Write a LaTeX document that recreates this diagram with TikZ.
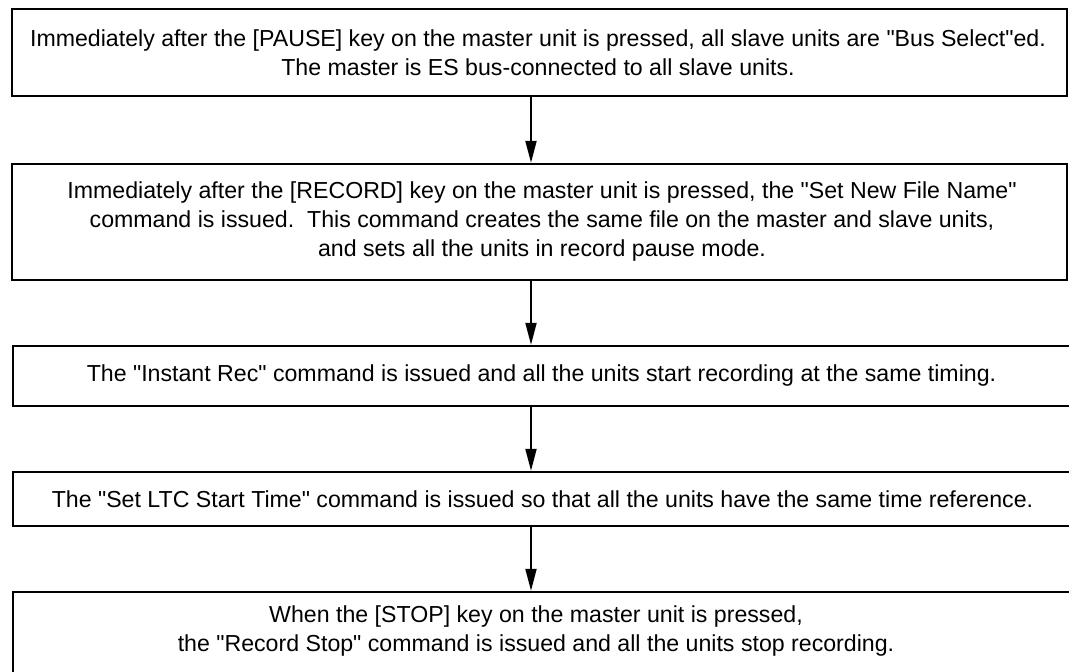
\documentclass[tikz,border=0pt]{standalone}
\usepackage{fontspec}
\setmainfont{Liberation Sans}[Ligatures=TeXOff]
\usetikzlibrary{arrows.meta}
\begin{document}
\begin{tikzpicture}[x=1pt,y=-1pt,
  txt/.style={align=center,inner sep=0pt,font=\fontsize{23.15}{29}\selectfont},
  stepbox/.style={draw=black,line width=2.4pt,rectangle,inner sep=0pt,txt},
  arr/.style={line width=2pt,-{Triangle[length=22pt,width=11pt]}}]
\useasboundingbox (0,0) rectangle (1069,672);
\clip (0,0) rectangle (1069,672);
% boxes
\node[stepbox,minimum width=1055pt,minimum height=87pt] (b1) at (539.5,52.5) {};
\node[stepbox,minimum width=1055pt,minimum height=116pt] (b2) at (539.5,222) {};
\node[stepbox,minimum width=1070pt,minimum height=60pt] (b3) at (548,376) {};
\node[stepbox,minimum width=1070pt,minimum height=54pt] (b4) at (548,499) {};
\node[stepbox,minimum width=1070pt,minimum height=110pt] (b5) at (548,647) {};
% texts
\node[txt] (t1) at (538,52.5)
  {Immediately after the [PAUSE] key on the master unit is pressed, all slave units are "Bus Select"ed.\\
   The master is ES bus-connected to all slave units.};
\node[txt] (t2) at (542,222)
  {Immediately after the [RECORD] key on the master unit is pressed, the "Set New File Name"\\
   command is issued.\ \ This command creates the same file on the master and slave units,\\
   and sets all the units in record pause mode.};
\node[txt] (t3) at (541.5,376)
  {The "Instant Rec" command is issued and all the units start recording at the same timing.};
\node[txt] (t4) at (542.5,499)
  {The "Set LTC Start Time" command is issued so that all the units have the same time reference.};
\node[txt] (t5) at (536,631.5)
  {When the [STOP] key on the master unit is pressed,\\
   the "Record Stop" command is issued and all the units stop recording.};
% connectors
\coordinate (ax) at (531,0);
\draw[arr] (b1.south -| ax) -- (b2.north -| ax);
\draw[arr] (b2.south -| ax) -- (b3.north -| ax);
\draw[arr] (b3.south -| ax) -- (b4.north -| ax);
\draw[arr] (b4.south -| ax) -- (b5.north -| ax);
\end{tikzpicture}
\end{document}
